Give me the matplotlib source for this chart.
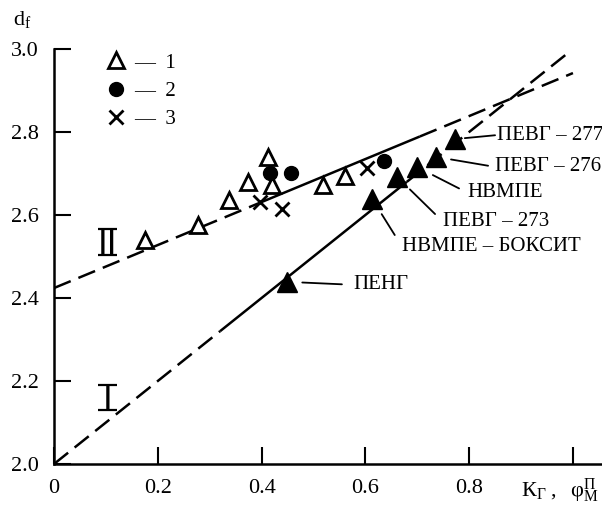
import numpy as np
import matplotlib
matplotlib.use("Agg")
import matplotlib.pyplot as plt
from matplotlib.transforms import IdentityTransform

# ---------------------------------------------------------------- data
# series 1: open triangles
s1_x = [0.175, 0.277, 0.337, 0.374, 0.412, 0.420, 0.518, 0.561]
s1_y = [2.540, 2.576, 2.636, 2.680, 2.740, 2.672, 2.672, 2.694]
# series 2: filled circles
s2_x = [0.416, 0.457, 0.636]
s2_y = [2.701, 2.701, 2.730]
# series 3: crosses
s3_x = [0.397, 0.439, 0.603]
s3_y = [2.631, 2.614, 2.713]
# named samples: filled triangles
named = ["ПЕНГ", "НВМПЕ – БОКСИТ", "ПЕВГ – 273", "НВМПЕ", "ПЕВГ – 276", "ПЕВГ – 277"]
named_x = [0.449, 0.613, 0.661, 0.699, 0.736, 0.773]
named_y = [2.439, 2.639, 2.692, 2.716, 2.740, 2.783]

# fitted lines I and II: intercept, slope, segment breaks
line_I = (2.0, 1.0)
line_I_breaks = [0.0, 0.32, 0.68, 0.995]
line_II = (2.424, 0.518)
line_II_breaks = [0.0, 0.40, 0.705, 1.0]

# roman numeral labels of the lines
numerals = ["II", "I"]
numeral_x = [0.103, 0.103]
numeral_y = [2.535, 2.16]

xticks = [0, 0.2, 0.4, 0.6, 0.8, 1.0]
xticklabels = ["0", "0.2", "0.4", "0.6", "0.8", ""]
yticks = [2.0, 2.2, 2.4, 2.6, 2.8, 3.0]

# ---------------------------------------------------------------- style
plt.rcParams["font.family"] = ["Liberation Serif", "DejaVu Serif"]
plt.rcParams["mathtext.fontset"] = "custom"
plt.rcParams["mathtext.rm"] = "Liberation Serif"
plt.rcParams["mathtext.it"] = "Liberation Serif:italic"
plt.rcParams["lines.scale_dashes"] = False

fig = plt.figure(figsize=(6.02, 5.11), dpi=100)
ax = fig.add_axes([54 / 602, 47 / 511, 548 / 602, 415 / 511])
ax.set_xlim(0, 1.056)
ax.set_ylim(2.0, 3.0)

def draw_line(params, breaks):
    b, k = params
    styles = ["dashed", "solid", "dashed"]
    for i in range(3):
        xs = np.array([breaks[i], breaks[i + 1]])
        ln, = ax.plot(xs, b + k * xs, color="black", lw=1.8,
                      solid_capstyle="butt", dash_capstyle="butt")
        if styles[i] == "dashed":
            ln.set_dashes((13, 6))

draw_line(line_I, line_I_breaks)
draw_line(line_II, line_II_breaks)

h1, = ax.plot(s1_x, s1_y, ls="none", marker="^", ms=12, mfc="white",
              mec="black", mew=2)
h2, = ax.plot(s2_x, s2_y, ls="none", marker="o", ms=10, color="black")
h3, = ax.plot(s3_x, s3_y, ls="none", marker="x", ms=10, mec="black", mew=2)
ax.plot(named_x, named_y, ls="none", marker="^", ms=14, color="black")

# label offsets (pixels) and leader gaps (points)
offsets = [(66, -3), (30, -48), (46, -45), (51, -26), (59, -10), (42, 4)]
gap_text = [8, 10, 8, 7, 5, 1.5]
gap_mark = [11, 13, 13, 13, 11, 7]
for i in range(len(named)):
    ax.annotate(named[i], xy=(named_x[i], named_y[i]), xytext=offsets[i],
                textcoords="offset pixels", ha="left", va="center",
                fontsize=15, annotation_clip=False,
                arrowprops=dict(arrowstyle="-", lw=1.3, color="black",
                                patchA=None, relpos=(0, 0.5),
                                shrinkA=gap_text[i], shrinkB=gap_mark[i]))

leg = ax.legend([h1, h2, h3], ["—  1", "—  2", "—  3"], loc="upper left",
                bbox_to_anchor=(0.095, 0.99), frameon=False, fontsize=15,
                handlelength=1.0, handletextpad=0.35, labelspacing=0.42,
                borderaxespad=0, borderpad=0)

# roman numerals: stems as text, with bars above and below
for i in range(len(numerals)):
    cx, cy = ax.transData.transform((numeral_x[i], numeral_y[i]))
    ax.text(cx, cy - 12.0, numerals[i], fontsize=24, family="DejaVu Sans",
            ha="center", va="baseline", transform=IdentityTransform())
    for dy in (12.8, -12.8):
        ax.plot([cx - 9.5, cx + 9.5], [cy + dy, cy + dy], color="black",
                lw=1.6, solid_capstyle="butt", transform=IdentityTransform(),
                clip_on=False)

ax.set_xticks(xticks)
ax.set_xticklabels(xticklabels)
ax.set_yticks(yticks)
ax.set_yticklabels(["%.1f" % v for v in yticks])
ax.tick_params(direction="in", length=12, width=1.5, labelsize=16, pad=11)
ax.spines["top"].set_visible(False)
ax.spines["right"].set_visible(False)
ax.spines["left"].set_linewidth(1.8)
ax.spines["bottom"].set_linewidth(1.8)

ax.text(-0.058, 1.07, r"$\mathrm{d_f}$", transform=ax.transAxes,
        fontsize=16, ha="center", va="center")
ax.text(0.923, -0.065, r"$\mathrm{К_Г\ ,\ \ φ_М^П}$", transform=ax.transAxes,
        fontsize=16, ha="center", va="center")

fig.savefig("out.png", dpi=100)
